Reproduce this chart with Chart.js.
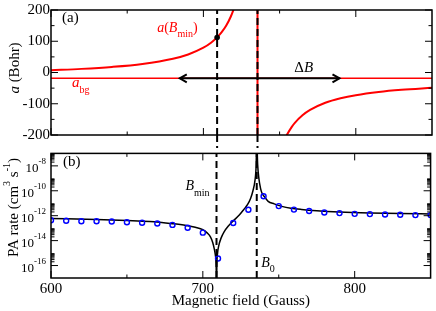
<!DOCTYPE html>
<html><head><meta charset="utf-8">
<script src="https://cdn.jsdelivr.net/npm/chart.js@4.4.0/dist/chart.umd.min.js"></script>
<style>
html,body{margin:0;padding:0;background:#fff;}
#wrap{position:relative;width:436px;height:311px;overflow:hidden;background:#fff;}
canvas{position:absolute;left:0;}
</style>
</head><body>
<div id="wrap">
<canvas id="ca" width="436" height="148" style="top:0px"></canvas>
<canvas id="cb" width="436" height="163" style="top:148px"></canvas>
</div>
<script>
// ---------------- data ----------------
const fieldRange = [600, 850];
const fieldTicks = [600, 700, 800];
const fieldMinorTicks = [650, 750];

// panel (a): scattering length (Bohr)
const aRange = [-200, 200];
const aTicks = [-200, -100, 0, 100, 200];
const aMinorTicks = [-150, -50, 50, 150];
const fieldLeft  = [600, 620, 640, 660, 680, 690, 700, 705, 709, 712, 715, 718, 720, 722, 725, 728];
const aLeft      = [7.2, 11.6, 17.9, 27.5, 44.1, 57.8, 79.3, 95.2, 112.3, 129, 150.4, 179.2, 204.6, 237.4, 309.8, 439.4];
const fieldRight = [743, 745, 748, 750, 753, 755, 758, 760, 765, 770, 780, 790, 800, 815, 830, 850];
const aRight     = [-488.8, -388.7, -299.1, -260.2, -218.5, -197.9, -173.9, -161.1, -136.9, -119.7, -96.9, -82.5, -72.5, -62.3, -55.4, -48.9];
const aBg = -18.5;
const B0 = 735.5;
const Bmin = 709;
const aAtBmin = 112;
const deltaBArrow = [684.5, 789.3];

// panel (b): PA rate (cm^3 s^-1), stored as log10
const rateRangeExp = [-17, -7];
const rateTickExps = [-8, -10, -12, -14, -16];
const fieldCurve = [600, 630, 650, 665, 680, 690, 695, 700, 703, 705, 706.5, 707.6, 708.3, 708.8, 709, 709.2, 709.7, 710.5, 712, 714, 717, 720, 724, 727, 729.5, 731.5, 733, 734.3, 735.1, 735.5, 736.1, 736.9, 738, 739, 741, 743, 747, 752, 758, 765, 775, 790, 810, 830, 850];
const rateCurveExp = [-12.23, -12.3, -12.38, -12.46, -12.64, -12.8, -12.93, -13.12, -13.4, -13.7, -14.15, -14.7, -15.2, -16.2, -19, -16.2, -15.0, -14.4, -13.8, -13.3, -12.8, -12.42, -11.95, -11.5, -11.1, -10.6, -10.0, -9.2, -8.0, -6.0, -7.9, -9.0, -9.8, -10.2, -10.55, -10.85, -11.05, -11.25, -11.4, -11.5, -11.6, -11.7, -11.78, -11.83, -11.86];
const fieldPts = [600, 610, 620, 630, 640, 650, 660, 670, 680, 690, 700, 710, 720, 730, 740, 750, 760, 770, 780, 790, 800, 810, 820, 830, 840, 850];
const ratePtsExp = [-12.36, -12.41, -12.44, -12.44, -12.46, -12.52, -12.56, -12.62, -12.74, -12.97, -13.36, -15.44, -12.59, -11.52, -10.44, -11.23, -11.51, -11.62, -11.74, -11.79, -11.85, -11.87, -11.9, -11.92, -11.95, -11.95];

// ---------------- helpers ----------------
const FAM = '"Liberation Serif", "Times New Roman", serif';
const RED = '#ff0000';
function fnt(s, i) { return (i ? 'italic ' : '') + s + 'px ' + FAM; }
function rich(ctx, parts, x, y, align, color) {
  ctx.save();
  ctx.fillStyle = color || '#000';
  ctx.textAlign = 'left'; ctx.textBaseline = 'alphabetic';
  let w = 0;
  parts.forEach(p => { ctx.font = fnt(p.s, p.i); w += ctx.measureText(p.t).width; });
  let cx = align === 'right' ? x - w : (align === 'center' ? x - w / 2 : x);
  parts.forEach(p => { ctx.font = fnt(p.s, p.i); ctx.fillText(p.t, cx, y + (p.dy || 0)); cx += ctx.measureText(p.t).width; });
  ctx.restore();
}
function pts(xs, ys) { return xs.map((x, i) => ({ x: x, y: ys[i] })); }
const pow10 = v => Math.pow(10, v);

const framePlugin = {
  id: 'frame',
  afterDatasetsDraw(chart, args, o) {
    const { ctx, chartArea: ca } = chart; const X = chart.scales.x, Y = chart.scales.y;
    ctx.save();
    ctx.strokeStyle = '#000'; ctx.lineWidth = 1; ctx.setLineDash([]);
    const seg = (a, b, c, d) => { ctx.beginPath(); ctx.moveTo(a, b); ctx.lineTo(c, d); ctx.stroke(); };
    const tick = (vals, len, ax) => vals.forEach(v => {
      if (ax === 'x') { const p = X.getPixelForValue(v); seg(p, ca.bottom, p, ca.bottom - len); seg(p, ca.top, p, ca.top + len); }
      else { const p = Y.getPixelForValue(v); seg(ca.left, p, ca.left + len, p); seg(ca.right, p, ca.right - len, p); }
    });
    tick(o.xMajor, 7, 'x'); tick(o.xMinor, 3.5, 'x'); tick(o.yMajor, 7, 'y'); tick(o.yMinor, 3.5, 'y');
    ctx.lineWidth = 1.5;
    ctx.strokeRect(ca.left, ca.top, ca.right - ca.left, ca.bottom - ca.top);
    ctx.restore();
  }
};

const dashed = { borderColor: '#000', borderWidth: 2, borderDash: [7, 4], pointRadius: 0, showLine: true, order: 0 };

// ---------------- panel (a) ----------------
const annotA = {
  id: 'annotA',
  afterDatasetsDraw(chart) {
    const { ctx, chartArea: ca } = chart; const X = chart.scales.x;
    // guide lines continue through the gap between panels
    ctx.save();
    ctx.strokeStyle = '#000'; ctx.lineWidth = 2; ctx.setLineDash([7, 4]);
    [Bmin, B0].forEach(v => { const p = X.getPixelForValue(v); ctx.beginPath(); ctx.moveTo(p, ca.bottom); ctx.lineTo(p, chart.height); ctx.stroke(); });
    // arrow heads
    ctx.setLineDash([]); ctx.lineWidth = 2; ctx.lineJoin = 'miter';
    const m = chart.getDatasetMeta(3);
    const p0 = m.data[0], p1 = m.data[1];
    ctx.beginPath(); ctx.moveTo(p0.x + 7, p0.y - 4); ctx.lineTo(p0.x, p0.y); ctx.lineTo(p0.x + 7, p0.y + 4); ctx.stroke();
    ctx.beginPath(); ctx.moveTo(p1.x - 7, p1.y - 4); ctx.lineTo(p1.x, p1.y); ctx.lineTo(p1.x - 7, p1.y + 4); ctx.stroke();
    ctx.restore();
    // texts
    rich(ctx, [{ t: '(a)', s: 15 }], ca.left + 11, 21.5, 'left');
    rich(ctx, [{ t: 'a', s: 15, i: 1 }, { t: 'bg', s: 10, dy: 5.5 }], ca.left + 21, 87, 'left', RED);
    rich(ctx, [{ t: 'a', s: 14, i: 1 }, { t: '(', s: 14 }, { t: 'B', s: 14, i: 1 }, { t: 'min', s: 10, dy: 5 }, { t: ')', s: 14 }], X.getPixelForValue(Bmin) - 19.5, 31.5, 'right', RED);
    rich(ctx, [{ t: '\u0394', s: 15 }, { t: 'B', s: 15, i: 1 }], X.getPixelForValue((deltaBArrow[0] + deltaBArrow[1]) / 2) + 44, 71.5, 'center');
    ctx.save(); ctx.translate(18.5, 68); ctx.rotate(-Math.PI / 2);
    rich(ctx, [{ t: 'a', s: 15, i: 1 }, { t: ' (Bohr)', s: 15 }], 0, 0, 'center');
    ctx.restore();
  }
};

new Chart(document.getElementById('ca'), {
  type: 'scatter',
  data: { datasets: [
    Object.assign({ data: pts([Bmin, Bmin], aRange) }, dashed),
    Object.assign({ data: pts([B0, B0], aRange) }, dashed),
    { data: [{ x: Bmin, y: aAtBmin }], pointRadius: 2.8, pointBackgroundColor: '#000', pointBorderWidth: 0, showLine: false, order: 0 },
    { data: pts(deltaBArrow, [aBg, aBg]), borderColor: '#000', borderWidth: 2, pointRadius: 0, showLine: true, order: 1 },
    { data: pts([B0, B0], aRange), borderColor: RED, borderWidth: 2, pointRadius: 0, showLine: true, order: 2 },
    { data: pts(fieldRange, [aBg, aBg]), borderColor: RED, borderWidth: 1.5, pointRadius: 0, showLine: true, order: 2 },
    { data: pts(fieldLeft, aLeft), borderColor: RED, borderWidth: 2, pointRadius: 0, showLine: true, cubicInterpolationMode: 'monotone', order: 2 },
    { data: pts(fieldRight, aRight), borderColor: RED, borderWidth: 2, pointRadius: 0, showLine: true, cubicInterpolationMode: 'monotone', order: 2 }
  ] },
  options: {
    responsive: false, animation: false, events: [],
    layout: { padding: { left: 0, right: 3, top: 5, bottom: 0 } },
    plugins: { legend: { display: false }, tooltip: { enabled: false },
      frame: { xMajor: fieldTicks, xMinor: fieldMinorTicks, yMajor: aTicks, yMinor: aMinorTicks } },
    scales: {
      x: { type: 'linear', min: fieldRange[0], max: fieldRange[1], ticks: { display: false }, grid: { display: false }, border: { display: false },
           afterFit: s => { s.height = 13; } },
      y: { type: 'linear', min: aRange[0], max: aRange[1],
           afterBuildTicks: s => { s.ticks = aTicks.map(v => ({ value: v })); },
           ticks: { font: { family: FAM, size: 15 }, color: '#000', padding: 1 },
           grid: { display: false, drawTicks: false }, border: { display: false },
           afterFit: s => { s.width = 51; } }
    }
  },
  plugins: [framePlugin, annotA]
});

// ---------------- panel (b) ----------------
const minorLog = [];
rateTickExps.forEach(e => { for (let m = 2; m <= 9; m++) minorLog.push(m * pow10(e)); });

const annotB = {
  id: 'annotB',
  afterDatasetsDraw(chart) {
    const { ctx, chartArea: ca } = chart; const X = chart.scales.x, Y = chart.scales.y;
    rich(ctx, [{ t: '(b)', s: 15 }], ca.left + 12, 17.5, 'left');
    rich(ctx, [{ t: 'B', s: 14, i: 1 }, { t: 'min', s: 10, dy: 5.5 }], X.getPixelForValue(Bmin) - 7, 42, 'right');
    rich(ctx, [{ t: 'B', s: 14, i: 1 }, { t: '0', s: 10, dy: 5.5 }], X.getPixelForValue(B0) + 4.5, 118.5, 'left');
    rateTickExps.forEach(e => {
      const y = Y.getPixelForValue(pow10(e));
      rich(ctx, [{ t: '10', s: 13 }, { t: String(e), s: 9, dy: -8 }], 46, y + 6, 'right');
    });
    ctx.save(); ctx.translate(17.5, 59.5); ctx.rotate(-Math.PI / 2);
    rich(ctx, [{ t: 'PA rate (cm', s: 15 }, { t: '3', s: 10, dy: -8 }, { t: ' s', s: 15 }, { t: '-1', s: 10, dy: -8 }, { t: ')', s: 15 }], 0, 0, 'center');
    ctx.restore();
    rich(ctx, [{ t: 'Magnetic field (Gauss)', s: 15 }], (ca.left + ca.right) / 2, 157, 'center');
  }
};

new Chart(document.getElementById('cb'), {
  type: 'scatter',
  data: { datasets: [
    Object.assign({ data: pts([Bmin, Bmin], rateRangeExp.map(pow10)) }, dashed),
    Object.assign({ data: pts([B0, B0], rateRangeExp.map(pow10)) }, dashed),
    { data: pts(fieldPts, ratePtsExp.map(pow10)), showLine: false, pointRadius: 2.5, pointBorderWidth: 1.4, pointBorderColor: '#0000ff', pointBackgroundColor: 'rgba(0,0,0,0)', order: 0 },
    { data: pts(fieldCurve, rateCurveExp.map(pow10)), borderColor: '#000', borderWidth: 1.5, pointRadius: 0, showLine: true, cubicInterpolationMode: 'monotone', order: 1 }
  ] },
  options: {
    responsive: false, animation: false, events: [],
    layout: { padding: { left: 0, right: 3, top: 0, bottom: 0 } },
    plugins: { legend: { display: false }, tooltip: { enabled: false },
      frame: { xMajor: fieldTicks, xMinor: fieldMinorTicks, yMajor: rateTickExps.map(pow10), yMinor: minorLog } },
    scales: {
      x: { type: 'linear', min: fieldRange[0], max: fieldRange[1],
           afterBuildTicks: s => { s.ticks = fieldTicks.map(v => ({ value: v })); },
           ticks: { font: { family: FAM, size: 15 }, color: '#000', padding: 2, maxRotation: 0 },
           grid: { display: false, drawTicks: false }, border: { display: false },
           afterFit: s => { s.height = 33; } },
      y: { type: 'logarithmic', min: pow10(rateRangeExp[0]), max: pow10(rateRangeExp[1]),
           ticks: { display: false }, grid: { display: false }, border: { display: false },
           afterFit: s => { s.width = 51; } }
    }
  },
  plugins: [framePlugin, annotB]
});
</script>
</body></html>
